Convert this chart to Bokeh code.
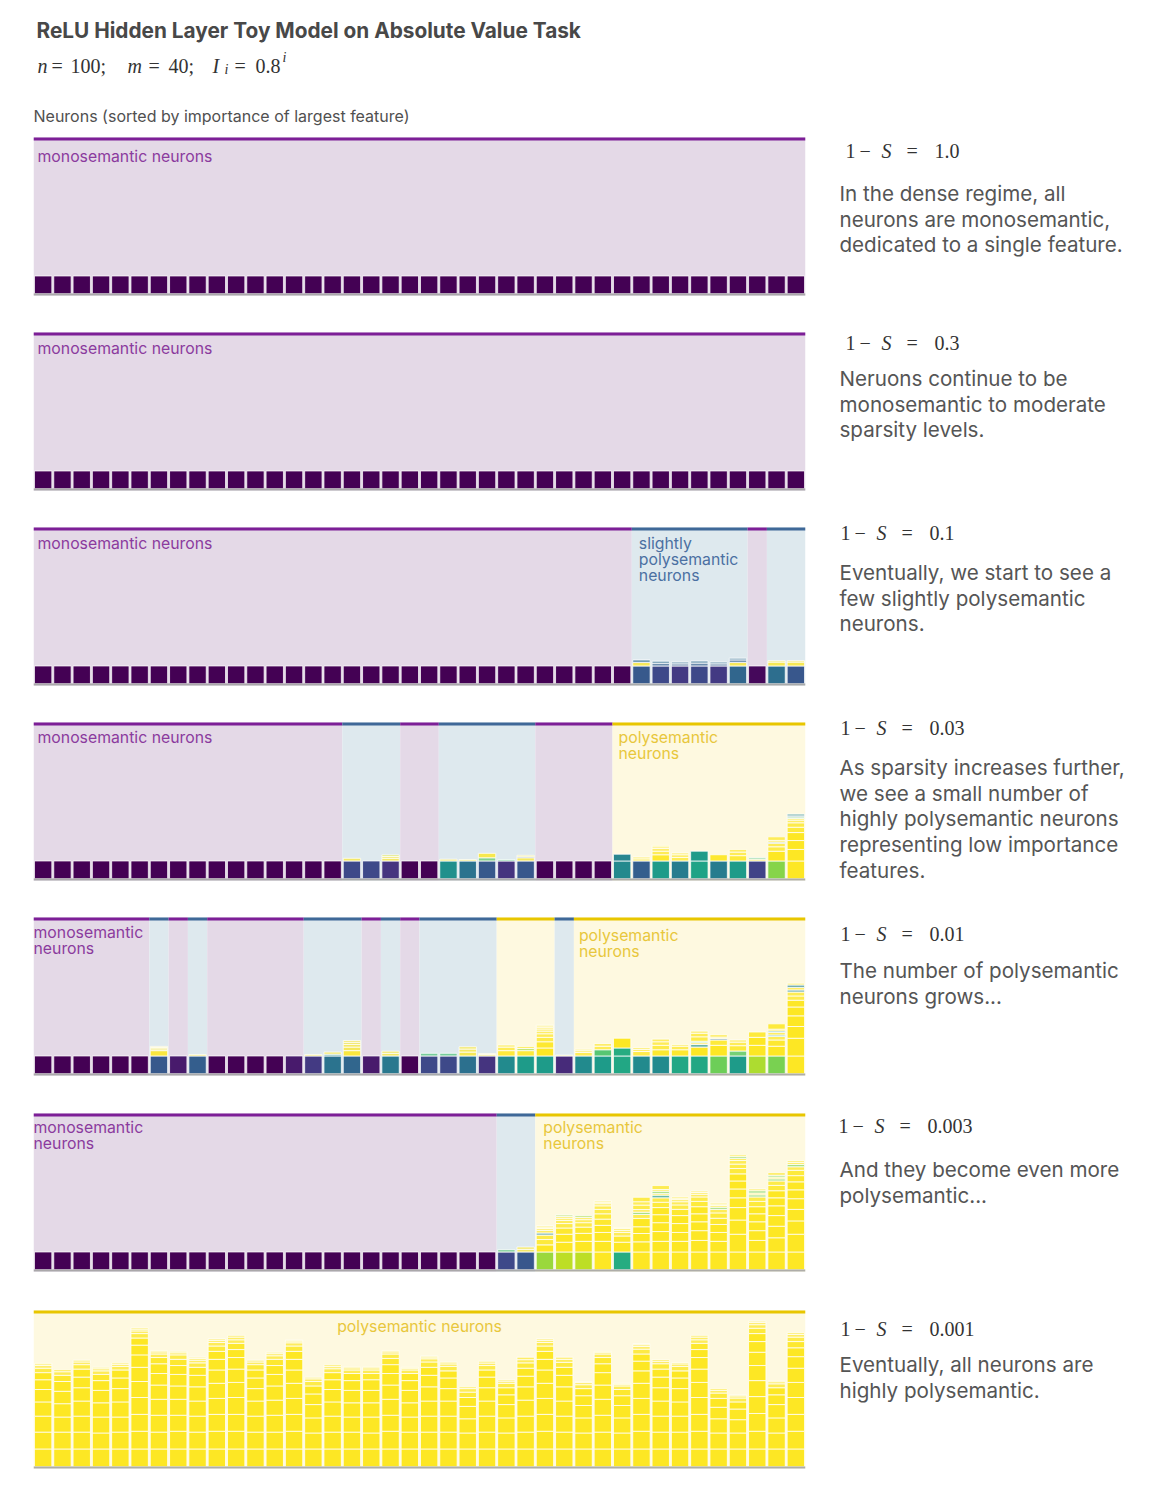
from bokeh.plotting import figure
from bokeh.layouts import column, row
from bokeh.models import Range1d, ColumnDataSource, Span
from bokeh.core.properties import value
from bokeh.palettes import Viridis256
from bokeh.embed import file_html
from bokeh.resources import INLINE

# ---------------------------------------------------------------------------
# Data: 40 hidden neurons per sparsity level.
# Neuron kind: M = monosemantic, S = slightly polysemantic, P = polysemantic.
# base_* : colour position (0..1 on viridis) of each neuron's largest feature
# extra_*: further features stacked on a neuron, as (weight, colour position)
# ---------------------------------------------------------------------------
N = 40
sparsity_values = ["1.0", "0.3", "0.1", "0.03", "0.01", "0.003", "0.001"]

kinds_p1 = "MMMMMMMMMMMMMMMMMMMMMMMMMMMMMMMMMMMMMMMM"
kinds_p2 = "MMMMMMMMMMMMMMMMMMMMMMMMMMMMMMMMMMMMMMMM"
kinds_p3 = "MMMMMMMMMMMMMMMMMMMMMMMMMMMMMMMSSSSSSMSS"
kinds_p4 = "MMMMMMMMMMMMMMMMSSSMMSSSSSMMMMPPPPPPPPPP"
kinds_p5 = "MMMMMMSMSMMMMMSSSMSMSSSSPPPSPPPPPPPPPPPP"
kinds_p6 = "MMMMMMMMMMMMMMMMMMMMMMMMSSPPPPPPPPPPPPPP"
kinds_p7 = "PPPPPPPPPPPPPPPPPPPPPPPPPPPPPPPPPPPPPPPP"

base_p1 = [0.0, 0.0, 0.0, 0.0, 0.0, 0.0, 0.0, 0.0, 0.0, 0.0,
           0.0, 0.0, 0.0, 0.0, 0.0, 0.0, 0.0, 0.0, 0.0, 0.0,
           0.0, 0.0, 0.0, 0.0, 0.0, 0.0, 0.0, 0.0, 0.0, 0.0,
           0.0, 0.0, 0.0, 0.0, 0.0, 0.0, 0.0, 0.0, 0.0, 0.0]
base_p2 = [0.0, 0.0, 0.0, 0.0, 0.0, 0.0, 0.0, 0.0, 0.0, 0.0,
           0.0, 0.0, 0.0, 0.0, 0.0, 0.0, 0.0, 0.0, 0.0, 0.0,
           0.0, 0.0, 0.0, 0.0, 0.0, 0.0, 0.0, 0.0, 0.0, 0.0,
           0.0, 0.0, 0.0, 0.0, 0.0, 0.0, 0.0, 0.0, 0.0, 0.0]
base_p3 = [0.0, 0.0, 0.0, 0.0, 0.0, 0.0, 0.0, 0.0, 0.0, 0.0,
           0.0, 0.0, 0.0, 0.0, 0.0, 0.0, 0.0, 0.0, 0.0, 0.0,
           0.0, 0.0, 0.0, 0.0, 0.0, 0.0, 0.0, 0.0, 0.0, 0.0,
           0.0, 0.28, 0.22, 0.17, 0.22, 0.17, 0.33, 0.02, 0.36, 0.27]
base_p4 = [0.0, 0.0, 0.0, 0.0, 0.0, 0.0, 0.0, 0.0, 0.0, 0.0,
           0.0, 0.0, 0.0, 0.0, 0.0, 0.0, 0.22, 0.22, 0.15, 0.0,
           0.0, 0.5, 0.38, 0.28, 0.15, 0.27, 0.0, 0.0, 0.0, 0.0,
           0.47, 0.3, 0.55, 0.42, 0.58, 0.42, 0.55, 0.2, 0.82, 1.0]
base_p5 = [0.0, 0.0, 0.0, 0.0, 0.0, 0.0, 0.28, 0.07, 0.3, 0.0,
           0.0, 0.0, 0.0, 0.07, 0.17, 0.38, 0.33, 0.07, 0.4, 0.0,
           0.22, 0.22, 0.37, 0.15, 0.48, 0.55, 0.55, 0.12, 0.48, 0.55,
           0.6, 0.48, 0.48, 0.6, 0.6, 0.78, 0.55, 0.88, 0.8, 1.0]
base_p6 = [0.0, 0.0, 0.0, 0.0, 0.0, 0.0, 0.0, 0.0, 0.0, 0.0,
           0.0, 0.0, 0.0, 0.0, 0.0, 0.0, 0.0, 0.0, 0.0, 0.0,
           0.0, 0.0, 0.0, 0.0, 0.22, 0.27, 0.85, 0.9, 0.9, 1.0,
           0.62, 1.0, 1.0, 1.0, 1.0, 1.0, 1.0, 1.0, 1.0, 1.0]

extra_p1 = {}
extra_p2 = {}
extra_p3 = {
    31: [(0.2, 1.0), (0.14, 0.35)],
    32: [(0.15, 0.3), (0.12, 0.35)],
    33: [(0.12, 0.3), (0.1, 0.35)],
    34: [(0.16, 0.3), (0.12, 0.35)],
    35: [(0.12, 0.3), (0.1, 0.35)],
    36: [(0.2, 1.0), (0.14, 0.3), (0.1, 0.35)],
    38: [(0.22, 1.0), (0.08, 1.0)],
    39: [(0.22, 1.0), (0.08, 1.0)],
}
extra_p4 = {
    16: [(0.15, 1.0)],
    18: [(0.15, 1.0), (0.1, 1.0), (0.09, 0.95)],
    21: [(0.1, 1.0)],
    22: [(0.08, 1.0)],
    23: [(0.18, 0.75), (0.25, 1.0)],
    24: [(0.08, 0.7)],
    25: [(0.18, 1.0), (0.06, 0.3), (0.08, 1.0)],
    30: [(0.38, 0.45)],
    31: [(0.12, 1.0), (0.1, 1.0)],
    32: [(0.35, 1.0), (0.2, 1.0), (0.15, 1.0), (0.1, 1.0), (0.08, 1.0)],
    33: [(0.2, 1.0), (0.15, 1.0), (0.1, 1.0)],
    34: [(0.55, 0.55)],
    35: [(0.35, 1.0)],
    36: [(0.3, 1.0), (0.2, 1.0), (0.15, 1.0)],
    37: [(0.1, 1.0), (0.08, 0.7)],
    38: [(0.55, 1.0), (0.25, 1.0), (0.2, 1.0), (0.06, 0.4), (0.1, 1.0), (0.2, 1.0)],
    39: [(0.65, 1.0), (0.5, 1.0), (0.45, 1.0), (0.3, 1.0), (0.25, 1.0),
         (0.15, 1.0), (0.1, 1.0), (0.08, 0.72), (0.06, 0.4), (0.1, 0.45)],
}
extra_p5 = {
    6: [(0.3, 1.0), (0.1, 1.0), (0.08, 1.0), (0.06, 1.0)],
    8: [(0.08, 1.0)],
    14: [(0.08, 1.0)],
    15: [(0.1, 0.5), (0.12, 1.0)],
    16: [(0.3, 1.0), (0.2, 1.0), (0.15, 1.0), (0.12, 1.0), (0.1, 1.0)],
    18: [(0.15, 1.0), (0.12, 1.0)],
    20: [(0.15, 0.7)],
    21: [(0.15, 0.7)],
    22: [(0.22, 1.0), (0.17, 1.0), (0.13, 1.0)],
    23: [(0.08, 1.0), (0.06, 1.0)],
    24: [(0.3, 1.0), (0.2, 1.0), (0.12, 1.0)],
    25: [(0.3, 1.0), (0.12, 0.85), (0.12, 1.0)],
    26: [(0.45, 1.0), (0.35, 1.0), (0.25, 1.0), (0.2, 1.0), (0.15, 1.0),
         (0.12, 1.0), (0.1, 1.0), (0.08, 1.0), (0.06, 1.0)],
    27: [(0.05, 1.0)],
    28: [(0.2, 1.0), (0.1, 1.0), (0.08, 1.0)],
    29: [(0.35, 0.72), (0.2, 1.0), (0.15, 1.0)],
    30: [(0.45, 0.62), (0.55, 1.0)],
    31: [(0.25, 1.0), (0.12, 1.0), (0.1, 1.0)],
    32: [(0.35, 1.0), (0.25, 1.0), (0.2, 1.0), (0.15, 1.0)],
    33: [(0.35, 1.0), (0.2, 1.0), (0.1, 1.0)],
    34: [(0.5, 1.0), (0.15, 0.5), (0.1, 1.0), (0.08, 0.7), (0.25, 1.0), (0.2, 1.0), (0.12, 1.0)],
    35: [(0.6, 1.0), (0.3, 1.0), (0.08, 0.35), (0.08, 1.0), (0.14, 1.0)],
    36: [(0.28, 0.75), (0.3, 1.0), (0.2, 1.0), (0.12, 1.0)],
    37: [(0.6, 1.0), (0.45, 1.0), (0.3, 1.0)],
    38: [(0.55, 1.0), (0.35, 1.0), (0.2, 1.0), (0.08, 0.55), (0.15, 1.0),
         (0.08, 0.5), (0.1, 1.0), (0.3, 1.0)],
    39: [(1.0, 1.0), (0.66, 1.0), (0.6, 1.0), (0.5, 1.0), (0.38, 1.0), (0.24, 1.0),
         (0.22, 1.0), (0.12, 0.45), (0.14, 1.0), (0.14, 0.45), (0.1, 1.0)],
}
extra_p6 = {
    24: [(0.13, 0.72)],
    25: [(0.15, 1.0), (0.13, 1.0)],
    26: [(0.4, 1.0), (0.3, 1.0), (0.25, 1.0), (0.12, 0.45), (0.15, 1.0), (0.1, 1.0),
         (0.08, 1.0), (0.07, 1.0)],
    27: [(0.55, 1.0), (0.45, 1.0), (0.35, 1.0), (0.25, 1.0), (0.18, 1.0), (0.12, 1.0),
         (0.1, 1.0), (0.08, 0.85)],
    28: [(0.6, 1.0), (0.45, 1.0), (0.35, 1.0), (0.25, 1.0), (0.17, 1.0), (0.12, 1.0),
         (0.1, 0.85)],
    29: [(0.6, 1.0), (0.5, 1.0), (0.4, 1.0), (0.35, 1.0), (0.3, 1.0), (0.25, 1.0),
         (0.2, 1.0), (0.12, 1.0), (0.08, 1.0), (0.07, 1.0)],
    30: [(0.55, 1.0), (0.35, 1.0), (0.2, 1.0), (0.12, 1.0), (0.1, 1.0), (0.06, 1.0)],
    31: [(0.57, 1.0), (0.47, 1.0), (0.38, 1.0), (0.47, 1.0), (0.22, 1.0), (0.13, 0.8),
         (0.15, 1.0), (0.25, 1.0), (0.19, 1.0), (0.25, 1.0)],
    32: [(0.6, 1.0), (0.55, 1.0), (0.5, 1.0), (0.45, 1.0), (0.4, 1.0), (0.3, 1.0),
         (0.25, 1.0), (0.15, 0.55), (0.1, 1.0), (0.12, 0.8), (0.1, 1.0), (0.22, 1.0)],
    33: [(0.6, 1.0), (0.5, 1.0), (0.5, 1.0), (0.45, 1.0), (0.35, 1.0), (0.25, 1.0),
         (0.18, 1.0), (0.12, 1.0), (0.08, 1.0), (0.08, 1.0)],
    34: [(0.65, 1.0), (0.55, 1.0), (0.5, 1.0), (0.45, 1.0), (0.4, 1.0), (0.3, 1.0),
         (0.25, 1.0), (0.15, 1.0), (0.1, 1.0), (0.08, 1.0)],
    35: [(0.6, 1.0), (0.5, 1.0), (0.45, 1.0), (0.35, 1.0), (0.3, 1.0), (0.2, 1.0),
         (0.12, 0.8), (0.1, 1.0), (0.08, 1.0), (0.07, 1.0)],
    36: [(1.0, 1.0), (0.8, 1.0), (0.7, 1.0), (0.55, 1.0), (0.5, 1.0), (0.45, 1.0),
         (0.4, 1.0), (0.3, 1.0), (0.25, 1.0), (0.2, 1.0), (0.12, 1.0), (0.1, 0.8), (0.1, 1.0)],
    37: [(0.65, 1.0), (0.55, 1.0), (0.5, 1.0), (0.45, 1.0), (0.4, 1.0), (0.3, 1.0),
         (0.25, 1.0), (0.12, 0.8), (0.1, 1.0), (0.13, 0.8), (0.1, 1.0)],
    38: [(0.8, 1.0), (0.65, 1.0), (0.6, 1.0), (0.55, 1.0), (0.45, 1.0), (0.4, 1.0),
         (0.3, 1.0), (0.25, 1.0), (0.12, 0.8), (0.1, 1.0), (0.1, 0.8), (0.15, 1.0)],
    39: [(1.0, 1.0), (0.75, 1.0), (0.65, 1.0), (0.6, 1.0), (0.5, 1.0), (0.45, 1.0),
         (0.35, 1.0), (0.3, 1.0), (0.2, 1.0), (0.13, 0.8), (0.12, 1.0), (0.1, 1.0)],
}
# densest case: every neuron carries many low-importance features (all yellow)
weights_p7 = [
    [1.0, 0.95, 0.9, 0.8, 0.7, 0.55, 0.4, 0.25, 0.15, 0.1, 0.05],
    [1.0, 0.95, 0.85, 0.75, 0.7, 0.55, 0.35, 0.2, 0.12],
    [1.0, 0.95, 0.9, 0.85, 0.75, 0.6, 0.45, 0.25, 0.15, 0.1],
    [1.0, 0.9, 0.9, 0.8, 0.7, 0.55, 0.35, 0.2, 0.12, 0.08],
    [1.0, 0.95, 0.85, 0.85, 0.75, 0.6, 0.45, 0.2, 0.12, 0.08],
    [1.0, 1.0, 0.95, 0.95, 0.9, 0.8, 0.7, 0.55, 0.4, 0.25, 0.15, 0.1, 0.08],
    [1.0, 0.95, 0.95, 0.9, 0.8, 0.65, 0.55, 0.35, 0.2, 0.12, 0.08],
    [1.0, 1.0, 0.9, 0.9, 0.75, 0.65, 0.5, 0.35, 0.25, 0.12, 0.08],
    [1.0, 0.95, 0.9, 0.85, 0.8, 0.65, 0.45, 0.25, 0.15, 0.1, 0.07],
    [1.0, 1.0, 0.95, 0.9, 0.85, 0.75, 0.6, 0.45, 0.3, 0.2, 0.12, 0.08],
    [1.0, 1.0, 0.95, 0.95, 0.85, 0.75, 0.65, 0.45, 0.35, 0.2, 0.15, 0.1],
    [1.0, 0.95, 0.9, 0.85, 0.7, 0.6, 0.45, 0.3, 0.15, 0.1],
    [1.0, 0.95, 0.95, 0.85, 0.8, 0.65, 0.5, 0.35, 0.2, 0.12, 0.08],
    [1.0, 1.0, 0.95, 0.9, 0.85, 0.75, 0.6, 0.45, 0.3, 0.18, 0.1, 0.05],
    [1.0, 0.9, 0.85, 0.75, 0.6, 0.45, 0.25, 0.15, 0.09],
    [1.0, 0.95, 0.9, 0.8, 0.7, 0.55, 0.4, 0.22, 0.12, 0.1],
    [1.0, 0.95, 0.85, 0.8, 0.7, 0.55, 0.4, 0.2, 0.12, 0.07],
    [1.0, 0.9, 0.9, 0.8, 0.7, 0.6, 0.35, 0.2, 0.12, 0.07],
    [1.0, 1.0, 0.9, 0.9, 0.8, 0.65, 0.5, 0.35, 0.25, 0.12, 0.08],
    [1.0, 0.95, 0.85, 0.8, 0.7, 0.55, 0.4, 0.2, 0.1, 0.05],
    [1.0, 0.95, 0.9, 0.85, 0.8, 0.65, 0.45, 0.3, 0.18, 0.1, 0.05],
    [1.0, 0.95, 0.9, 0.85, 0.7, 0.6, 0.4, 0.25, 0.14, 0.1],
    [1.0, 0.9, 0.8, 0.7, 0.5, 0.3, 0.2, 0.1],
    [1.0, 0.95, 0.9, 0.85, 0.75, 0.6, 0.4, 0.25, 0.14, 0.1],
    [1.0, 0.9, 0.85, 0.75, 0.55, 0.4, 0.25, 0.12, 0.08],
    [1.0, 0.95, 0.9, 0.9, 0.75, 0.6, 0.45, 0.3, 0.18, 0.14],
    [1.0, 1.0, 0.95, 0.9, 0.85, 0.75, 0.6, 0.45, 0.3, 0.2, 0.12, 0.08],
    [1.0, 0.95, 0.9, 0.85, 0.8, 0.65, 0.45, 0.28, 0.17, 0.12],
    [1.0, 0.9, 0.85, 0.7, 0.55, 0.4, 0.22, 0.12, 0.06],
    [1.0, 0.95, 0.95, 0.9, 0.8, 0.7, 0.5, 0.35, 0.2, 0.1, 0.05],
    [1.0, 0.9, 0.85, 0.7, 0.55, 0.35, 0.2, 0.1, 0.05],
    [1.0, 1.0, 0.95, 0.9, 0.85, 0.7, 0.55, 0.4, 0.27, 0.15, 0.1, 0.05],
    [1.0, 0.95, 0.9, 0.85, 0.75, 0.6, 0.45, 0.3, 0.14, 0.1],
    [1.0, 0.95, 0.9, 0.8, 0.75, 0.6, 0.4, 0.25, 0.14, 0.08],
    [1.0, 1.0, 0.95, 0.95, 0.85, 0.75, 0.65, 0.45, 0.35, 0.2, 0.15, 0.1],
    [1.0, 0.9, 0.8, 0.65, 0.5, 0.3, 0.15, 0.1],
    [1.0, 0.9, 0.75, 0.6, 0.4, 0.22, 0.12, 0.05],
    [1.0, 1.0, 1.0, 0.95, 0.9, 0.85, 0.75, 0.6, 0.45, 0.3, 0.2, 0.12, 0.08],
    [1.0, 0.9, 0.85, 0.75, 0.55, 0.4, 0.22, 0.12, 0.06],
    [1.0, 1.0, 0.95, 0.95, 0.85, 0.8, 0.65, 0.5, 0.35, 0.25, 0.15, 0.1],
]

descriptions = [
    ["In the dense regime, all", "neurons are monosemantic,", "dedicated to a single feature."],
    ["Neruons continue to be", "monosemantic to moderate", "sparsity levels."],
    ["Eventually, we start to see a", "few slightly polysemantic", "neurons."],
    ["As sparsity increases further,", "we see a small number of",
     "highly polysemantic neurons", "representing low importance", "features."],
    ["The number of polysemantic", "neurons grows..."],
    ["And they become even more", "polysemantic..."],
    ["Eventually, all neurons are", "highly polysemantic."],
]

# ---------------------------------------------------------------------------
# Styling
# ---------------------------------------------------------------------------
SANS = value("Inter")
SERIF = value("Liberation Serif")
Y_TOP = 8.8
Y_BOTTOM = -0.1
KIND_STYLE = {
    "M": dict(bg="#e4d9e7", line="#7d1f97", text="#8b3b9e"),
    "S": dict(bg="#dee9ee", line="#3f6898", text="#4b70a2"),
    "P": dict(bg="#fef9e0", line="#e8c600", text="#e8c73c"),
}

# per panel: in-band labels (lines, neuron x, px offset x, px offset y, kind, align)
panel_labels = [
    [(["monosemantic neurons"], 0, 4, 19, "M", "left")],
    [(["monosemantic neurons"], 0, 4, 16, "M", "left")],
    [(["monosemantic neurons"], 0, 4, 16, "M", "left"),
     (["slightly", "polysemantic", "neurons"], 31, 7, 16, "S", "left")],
    [(["monosemantic neurons"], 0, 4, 15, "M", "left"),
     (["polysemantic", "neurons"], 30, 6, 15, "P", "left")],
    [(["monosemantic", "neurons"], 0, 0, 15, "M", "left"),
     (["polysemantic", "neurons"], 28, 5, 18, "P", "left")],
    [(["monosemantic", "neurons"], 0, 0, 14, "M", "left"),
     (["polysemantic", "neurons"], 26, 8, 14, "P", "left")],
    [(["polysemantic neurons"], 20, 0, 16, "P", "center")],
]

ROW_HEIGHTS = [195, 195, 195, 195, 196, 197, 191]
PANEL_W = 820
TEXT_W = 330
FRAME_TOP = 7      # px from row top to the band's top edge
FRAME_H = 158      # px spanned by Y_BOTTOM..Y_TOP
# right-hand text: (x of math line, y of math line, y of first description line)
text_pos = [(25, 20, 63), (25, 17, 53), (20, 12, 52), (20, 12, 52),
             (20, 23, 60), (18, 19, 63), (20, 25, 61)]
DESC_STEP = 25.7


def viridis(v):
    return Viridis256[int(round(v * 255))]


def stacks_from(base, extra):
    return [[(1.0, base[i])] + extra.get(i, []) for i in range(N)]


panels = [
    (kinds_p1, stacks_from(base_p1, extra_p1)),
    (kinds_p2, stacks_from(base_p2, extra_p2)),
    (kinds_p3, stacks_from(base_p3, extra_p3)),
    (kinds_p4, stacks_from(base_p4, extra_p4)),
    (kinds_p5, stacks_from(base_p5, extra_p5)),
    (kinds_p6, stacks_from(base_p6, extra_p6)),
    (kinds_p7, [[(w, 1.0) for w in ws] for ws in weights_p7]),
]


def bare_figure(w, h, xr, yr, **borders):
    f = figure(width=w, height=h, x_range=xr, y_range=yr,
               x_axis_location=None, y_axis_location=None,
               toolbar_location=None, output_backend="svg",
               background_fill_color="white", border_fill_color="white",
               outline_line_color=None, min_border=0, **borders)
    f.grid.visible = False
    return f


def panel_figure(kinds, stacks, labels, height):
    ppu = FRAME_H / (Y_TOP - Y_BOTTOM)
    y_lo = Y_BOTTOM - (height - FRAME_TOP - FRAME_H) / ppu
    y_hi = Y_TOP + FRAME_TOP / ppu
    p = bare_figure(PANEL_W, height, Range1d(0, N), Range1d(y_lo, y_hi),
                    min_border_left=33, min_border_right=15)
    # contiguous runs of the same neuron kind become shaded bands
    runs = []
    start = 0
    for i in range(1, N + 1):
        if i == N or kinds[i] != kinds[start]:
            runs.append((start, i, kinds[start]))
            start = i
    band = ColumnDataSource(dict(
        left=[r[0] for r in runs], right=[r[1] for r in runs],
        bg=[KIND_STYLE[r[2]]["bg"] for r in runs],
        line=[KIND_STYLE[r[2]]["line"] for r in runs]))
    p.quad(left="left", right="right", bottom=Y_BOTTOM, top=Y_TOP, fill_color="bg",
           line_color=None, source=band)

    # stacked feature weights per neuron
    seg = dict(left=[], right=[], bottom=[], top=[], color=[], alpha=[])
    for i, stack in enumerate(stacks):
        y = 0.0
        for j, (w, v) in enumerate(stack):
            seg["left"].append(i + 0.05)
            seg["right"].append(i + 0.95)
            seg["bottom"].append(y)
            seg["top"].append(y + w)
            seg["color"].append(viridis(v))
            seg["alpha"].append(1.0 if j == 0 else min(1.0, 0.45 + 1.4 * w))
            y += w
    p.quad(left="left", right="right", bottom="bottom", top="top",
           fill_color="color", fill_alpha="alpha", line_color="white",
           line_alpha=0.75, line_width=1, source=ColumnDataSource(seg))

    p.quad(left="left", right="right", bottom=Y_TOP - 0.17, top=Y_TOP,
           fill_color="line", line_color=None, source=band)
    p.segment(x0=[0], y0=[Y_BOTTOM / 2], x1=[N], y1=[Y_BOTTOM / 2],
              line_color="#9a9a9a", line_width=2, line_alpha=0.8)

    for lines, x, dx, dy, kind, align in labels:
        for k, txt in enumerate(lines):
            p.text(x=[x], y=[Y_TOP], text=[txt], x_offset=dx, y_offset=dy + 16 * k,
                   text_font=SANS, text_font_size="15.8px",
                   text_color=KIND_STYLE[kind]["text"], text_align=align,
                   text_baseline="middle")
    return p


def text_figure(idx, height):
    t = bare_figure(TEXT_W, height, Range1d(0, TEXT_W), Range1d(height, 0))
    x0, ym, yd = text_pos[idx]
    pieces = [("1", 0, "normal"), ("\u2212", 14, "normal"), ("S", 36, "italic"),
              ("=", 61, "normal"), (sparsity_values[idx], 89, "normal")]
    for txt, dx, style in pieces:
        t.text(x=[x0 + dx], y=[ym], text=[txt], text_font=SERIF, text_font_size="20px",
               text_font_style=style, text_color="#333333", text_baseline="middle")
    for k, line in enumerate(descriptions[idx]):
        t.text(x=[19], y=[yd + DESC_STEP * k], text=[line], text_font=SANS,
               text_font_size="20.6px", text_color="#555555", text_baseline="middle")
    return t


# header with title, parameters and the shared axis caption
header = bare_figure(1150, 130, Range1d(0, 1150), Range1d(130, 0))
header.text(x=[36], y=[30], text=["ReLU Hidden Layer Toy Model on Absolute Value Task"],
            text_font=SANS, text_font_size="20.8px", text_font_style="bold",
            text_color="#484848", text_baseline="middle")
sub = [("n", 37, 65, "20px", "italic"), ("=", 51, 65, "20px", "normal"),
       ("100;", 70, 65, "20px", "normal"), ("m", 127, 65, "20px", "italic"),
       ("=", 148, 65, "20px", "normal"), ("40;", 168, 65, "20px", "normal"),
       ("I", 212, 65, "20px", "italic"), ("i", 224, 69, "14px", "italic"),
       ("=", 234, 65, "20px", "normal"), ("0.8", 255, 65, "20px", "normal"),
       ("i", 282, 57, "14px", "italic")]
for txt, x, y, size, style in sub:
    header.text(x=[x], y=[y], text=[txt], text_font=SERIF, text_font_size=size,
                text_font_style=style, text_color="#333333", text_baseline="alphabetic")
header.text(x=[33], y=[115], text=["Neurons (sorted by importance of largest feature)"],
            text_font=SANS, text_font_size="16px", text_color="#505050",
            text_baseline="middle")

rows = []
for idx, (kinds, stacks) in enumerate(panels):
    h = ROW_HEIGHTS[idx]
    rows.append(row(panel_figure(kinds, stacks, panel_labels[idx], h),
                    text_figure(idx, h), spacing=0))

layout = column([header] + rows, spacing=0)
open("out.html", "w").write(file_html(layout, INLINE))
